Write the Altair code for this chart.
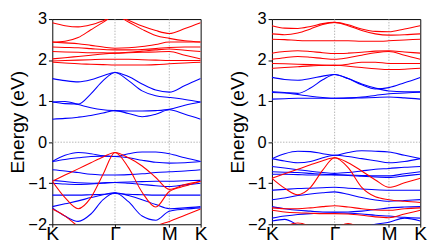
import altair as alt
import pandas as pd

# k-path K - Gamma - M - K (cumulative distance)
KPTS = [0, 0.27, 0.55, 0.82, 1.08, 1.333, 1.62, 1.91, 2.2, 2.488, 2.82, 3.155]
TICK_POS = [0, 1.333, 2.488, 3.155]
TICK_LBL = ["K", "Γ", "M", "K"]

# ---------------- left panel ----------------
L_red = [
    [2.91, 2.84, 2.81, 2.86, 2.96, 3.08, 2.97, 2.83, 2.72, 2.65, 2.77, 2.91],
    [2.44, 2.46, 2.55, 2.74, 2.92, 3.08, 2.93, 2.75, 2.60, 2.53, 2.47, 2.44],
    [2.44, 2.42, 2.40, 2.36, 2.32, 2.29, 2.30, 2.33, 2.38, 2.44, 2.44, 2.44],
    [2.32, 2.31, 2.30, 2.28, 2.26, 2.25, 2.25, 2.26, 2.28, 2.31, 2.32, 2.32],
    [2.21, 2.20, 2.19, 2.18, 2.18, 2.17, 2.19, 2.22, 2.25, 2.27, 2.24, 2.21],
    [2.03, 2.06, 2.09, 2.12, 2.15, 2.17, 2.18, 2.19, 2.20, 2.21, 2.12, 2.03],
    [1.98, 1.99, 2.00, 2.01, 2.02, 2.02, 2.02, 2.01, 2.00, 1.99, 1.99, 1.99],
    [1.95, 1.93, 1.91, 1.90, 1.89, 1.88, 1.88, 1.88, 1.89, 1.91, 1.93, 1.95],
    [-0.95, -0.80, -0.65, -0.50, -0.36, -0.25, -0.38, -0.58, -0.86, -1.15, -1.03, -0.95],
    [-0.95, -1.35, -1.62, -1.35, -0.78, -0.25, -0.62, -1.22, -1.58, -1.20, -1.07, -0.95],
    [-1.63, -1.80, -2.05, -2.25, -2.40, -2.45, -2.40, -2.25, -2.05, -1.93, -1.78, -1.63],
]
L_blue = [
    [1.55, 1.50, 1.47, 1.52, 1.62, 1.70, 1.60, 1.42, 1.27, 1.22, 1.38, 1.55],
    [0.98, 0.94, 0.93, 1.18, 1.50, 1.70, 1.50, 1.25, 1.13, 1.09, 1.04, 0.98],
    [0.98, 0.99, 0.92, 0.84, 0.79, 0.77, 0.76, 0.76, 0.77, 0.80, 0.90, 0.98],
    [0.56, 0.58, 0.61, 0.65, 0.71, 0.77, 0.70, 0.62, 0.68, 0.79, 0.68, 0.56],
    [-0.47, -0.32, -0.25, -0.28, -0.33, -0.35, -0.28, -0.24, -0.24, -0.28, -0.38, -0.47],
    [-0.47, -0.42, -0.38, -0.35, -0.34, -0.35, -0.38, -0.44, -0.49, -0.51, -0.50, -0.47],
    [-0.67, -0.70, -0.74, -0.78, -0.80, -0.80, -0.79, -0.77, -0.74, -0.72, -0.70, -0.67],
    [-0.93, -0.96, -0.99, -1.00, -0.99, -0.98, -0.97, -0.96, -0.95, -0.95, -0.94, -0.93],
    [-1.00, -1.02, -1.03, -1.02, -1.00, -0.98, -1.00, -1.03, -1.06, -1.08, -1.04, -1.00],
    [-1.29, -1.29, -1.29, -1.28, -1.27, -1.25, -1.27, -1.28, -1.29, -1.29, -1.29, -1.29],
    [-1.57, -1.50, -1.43, -1.35, -1.28, -1.23, -1.30, -1.40, -1.52, -1.62, -1.60, -1.57],
    [-1.60, -1.80, -1.93, -1.75, -1.40, -1.23, -1.45, -1.80, -1.90, -1.68, -1.63, -1.60],
]

# ---------------- right panel ----------------
R_red = [
    [2.84, 2.78, 2.77, 2.82, 2.89, 2.92, 2.86, 2.76, 2.70, 2.69, 2.76, 2.84],
    [2.64, 2.62, 2.66, 2.76, 2.87, 2.92, 2.84, 2.72, 2.64, 2.61, 2.62, 2.64],
    [2.51, 2.50, 2.48, 2.47, 2.47, 2.47, 2.47, 2.46, 2.46, 2.47, 2.49, 2.51],
    [2.17, 2.21, 2.23, 2.21, 2.18, 2.16, 2.17, 2.19, 2.22, 2.23, 2.20, 2.17],
    [2.02, 2.06, 2.09, 2.07, 2.04, 2.02, 2.06, 2.12, 2.18, 2.21, 2.12, 2.02],
    [1.92, 1.91, 1.90, 1.89, 1.88, 1.87, 1.90, 1.95, 1.95, 1.92, 1.92, 1.92],
    [1.80, 1.82, 1.84, 1.86, 1.87, 1.88, 1.85, 1.82, 1.79, 1.77, 1.78, 1.80],
    [-0.88, -0.77, -0.66, -0.55, -0.45, -0.38, -0.50, -0.70, -0.92, -1.10, -0.99, -0.88],
    [-0.88, -1.12, -1.28, -1.10, -0.68, -0.38, -0.62, -1.10, -1.33, -1.40, -1.44, -1.47],
    [-1.60, -1.62, -1.62, -1.60, -1.57, -1.55, -1.58, -1.62, -1.65, -1.66, -1.62, -1.60],
    [-1.66, -1.70, -1.72, -1.73, -1.74, -1.74, -1.75, -1.78, -1.82, -1.84, -1.75, -1.66],
    [-2.20, -2.05, -1.97, -2.05, -2.20, -2.10, -1.98, -2.10, -2.20, -2.20, -2.20, -2.20],
]
R_blue = [
    [1.58, 1.53, 1.51, 1.55, 1.61, 1.65, 1.55, 1.40, 1.30, 1.33, 1.45, 1.58],
    [1.23, 1.21, 1.19, 1.32, 1.52, 1.65, 1.55, 1.42, 1.32, 1.25, 1.23, 1.23],
    [1.21, 1.20, 1.16, 1.12, 1.09, 1.07, 1.08, 1.10, 1.14, 1.18, 1.20, 1.22],
    [1.05, 1.06, 1.07, 1.07, 1.07, 1.07, 1.07, 1.08, 1.09, 1.10, 1.08, 1.05],
    [-0.40, -0.28, -0.22, -0.23, -0.28, -0.32, -0.25, -0.21, -0.22, -0.24, -0.32, -0.40],
    [-0.40, -0.46, -0.50, -0.47, -0.38, -0.32, -0.35, -0.40, -0.45, -0.50, -0.47, -0.40],
    [-0.59, -0.63, -0.67, -0.71, -0.74, -0.76, -0.74, -0.70, -0.66, -0.64, -0.61, -0.59],
    [-0.72, -0.73, -0.74, -0.76, -0.78, -0.79, -0.80, -0.81, -0.82, -0.82, -0.77, -0.72],
    [-0.78, -0.78, -0.79, -0.80, -0.80, -0.80, -0.81, -0.83, -0.85, -0.86, -0.82, -0.78],
    [-1.17, -1.15, -1.13, -1.12, -1.11, -1.10, -1.12, -1.14, -1.16, -1.17, -1.17, -1.17],
    [-1.40, -1.36, -1.30, -1.26, -1.23, -1.21, -1.27, -1.35, -1.41, -1.44, -1.42, -1.40],
    [-1.57, -1.62, -1.66, -1.68, -1.70, -1.70, -1.70, -1.68, -1.64, -1.60, -1.58, -1.57],
    [-1.85, -1.80, -1.76, -1.74, -1.73, -1.72, -1.73, -1.75, -1.78, -1.80, -1.83, -1.85],
    [-1.92, -1.88, -2.02, -2.20, -2.30, -2.30, -2.25, -2.10, -2.00, -1.95, -1.85, -1.92],
]

RED = "#ff0000"
BLUE = "#0000ff"


def bands_frame(blue, red):
    rows = []
    for i, vals in enumerate(blue):
        for k, e in zip(KPTS, vals):
            rows.append({"band": f"b{i}", "k": k, "E": e, "color": BLUE, "ord": 0})
    for i, vals in enumerate(red):
        for k, e in zip(KPTS, vals):
            rows.append({"band": f"r{i}", "k": k, "E": e, "color": RED, "ord": 1})
    return pd.DataFrame(rows)


label_expr = "datum.value < 0.5 ? 'K' : (datum.value < 2 ? 'Γ' : (datum.value < 3 ? 'M' : 'K'))"

xscale = alt.Scale(domain=[0, 3.155], nice=False, zero=False)
yscale = alt.Scale(domain=[-2, 3], nice=False, zero=False)

xaxis = alt.Axis(values=TICK_POS, labelExpr=label_expr, title=None, grid=False,
                 labelFontSize=20, labelFlush=False, tickSize=3, labelPadding=-3,
                 domain=False, tickColor="black", labelColor="black")
yaxis = alt.Axis(values=[-2, -1, 0, 1, 2, 3], title="Energy (eV)", grid=False,
                 labelFontSize=17, titleFontSize=20, titleFontWeight="normal",
                 tickSize=4, labelPadding=2, titlePadding=0, domain=False,
                 tickColor="black", labelColor="black", titleColor="black")

PW, PH = 154, 213


def panel(blue, red):
    df = bands_frame(blue, red)
    vlines = pd.DataFrame({"k": [1.333, 2.488]})
    hline = pd.DataFrame({"E": [0.0]})
    v = alt.Chart(vlines).mark_rule(color="#a0a0a0", strokeWidth=0.8, strokeDash=[1.5, 1.5]).encode(
        x=alt.X("k:Q", scale=xscale, axis=xaxis))
    h = alt.Chart(hline).mark_rule(color="#a0a0a0", strokeWidth=0.8, strokeDash=[1.5, 1.5]).encode(
        y=alt.Y("E:Q", scale=yscale, axis=yaxis))
    lines = alt.Chart(df).mark_line(clip=True, strokeWidth=1.1, interpolate="monotone").encode(
        x=alt.X("k:Q", scale=xscale, axis=xaxis),
        y=alt.Y("E:Q", scale=yscale, axis=yaxis),
        color=alt.Color("color:N", scale=None),
        detail="band:N",
        order=alt.Order("ord:Q"),
    )
    return alt.layer(v, h, lines).properties(width=PW, height=PH)


chart = (
    alt.hconcat(panel(L_blue, L_red), panel(R_blue, R_red), spacing=20)
    .properties(padding={"left": 0, "top": -3, "right": 0, "bottom": -4})
    .configure(font="Liberation Sans")
    .configure_view(stroke="black", strokeWidth=1)
)

chart.save("out.html", embed_options={"renderer": "svg", "actions": False})
